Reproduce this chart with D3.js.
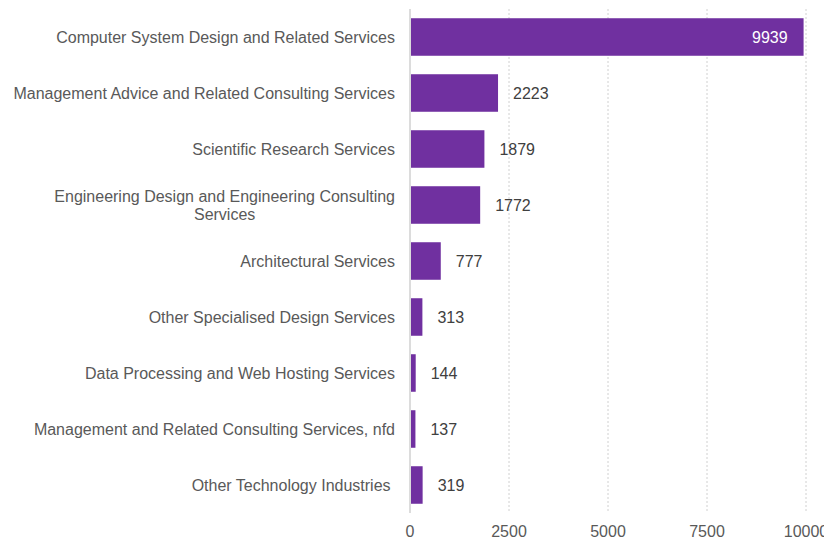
<!DOCTYPE html>
<html>
<head>
<meta charset="utf-8">
<script src="https://cdn.jsdelivr.net/npm/d3@7"></script>
<style>
  html, body { margin: 0; padding: 0; background: #fff; }
  svg text { font-family: "Liberation Sans", Arial, sans-serif; }
</style>
</head>
<body>
<svg id="chart" width="824" height="541"></svg>
<script>
// Businesses by technology-related industry
const categories = [
  "Computer System Design and Related Services",
  "Management Advice and Related Consulting Services",
  "Scientific Research Services",
  "Engineering Design and Engineering Consulting|Services",
  "Architectural Services",
  "Other Specialised Design Services",
  "Data Processing and Web Hosting Services",
  "Management and Related Consulting Services, nfd",
  "Other Technology Industries "
];
const values = [9939, 2223, 1879, 1772, 777, 313, 144, 137, 319];
const xTicks = [0, 2500, 5000, 7500, 10000];

(function () {
  const svg = d3.select("#chart");
  const plotLeft = 410, plotRight = 806, plotTop = 9, plotBottom = 513;
  const fontSize = 16;

  const x = d3.scaleLinear().domain([0, 10000]).range([plotLeft, plotRight]);
  const y = d3.scaleBand().domain(categories).range([plotTop, plotBottom])
    .paddingInner(0.33).paddingOuter(0.165);

  // vertical dotted gridlines
  svg.append("g").selectAll("line")
    .data(xTicks.filter(d => d > 0))
    .join("line")
    .attr("x1", d => x(d)).attr("x2", d => x(d))
    .attr("y1", plotTop).attr("y2", plotBottom)
    .attr("stroke", "#d0d0d0").attr("stroke-width", 1)
    .attr("stroke-dasharray", "2,2");

  // baseline at zero
  svg.append("line")
    .attr("x1", x(0)).attr("x2", x(0))
    .attr("y1", plotTop).attr("y2", plotBottom)
    .attr("stroke", "#dcdcdc").attr("stroke-width", 2);

  // bars
  svg.append("g").selectAll("rect")
    .data(categories)
    .join("rect")
    .attr("x", x(0) + 1)
    .attr("y", d => y(d))
    .attr("width", (d, i) => x(values[i]) - x(0) - 1)
    .attr("height", y.bandwidth())
    .attr("fill", "#7030a0");

  // value labels
  svg.append("g").selectAll("text")
    .data(categories)
    .join("text")
    .attr("x", (d, i) => values[i] > 5000 ? x(values[i]) - 16 : x(values[i]) + 15)
    .attr("y", d => y(d) + y.bandwidth() / 2)
    .attr("dy", "0.35em")
    .attr("text-anchor", (d, i) => values[i] > 5000 ? "end" : "start")
    .attr("font-size", fontSize)
    .attr("fill", (d, i) => values[i] > 5000 ? "#ffffff" : "#404040")
    .text((d, i) => values[i]);

  // category labels (right-aligned block, lines centred within it)
  const labelRight = 395;
  const catG = svg.append("g");
  categories.forEach(c => {
    const lines = c.split("|");
    const cy = y(c) + y.bandwidth() / 2;
    const lh = 18;
    const t = catG.append("text")
      .attr("font-size", fontSize)
      .attr("fill", "#595959")
      .style("white-space", "pre");
    const spans = lines.map((ln, j) => t.append("tspan")
      .attr("y", cy + (j - (lines.length - 1) / 2) * lh)
      .attr("dy", "0.35em")
      .text(ln));
    const w = d3.max(spans.map(s => s.node().getComputedTextLength()));
    spans.forEach(s => {
      s.attr("x", labelRight - w / 2).attr("text-anchor", "middle");
    });
  });

  // x-axis tick labels
  svg.append("g").selectAll("text")
    .data(xTicks)
    .join("text")
    .attr("x", d => x(d))
    .attr("y", 531)
    .attr("dy", "0.35em")
    .attr("text-anchor", "middle")
    .attr("font-size", fontSize)
    .attr("fill", "#595959")
    .text(d => d);
})();
</script>
</body>
</html>
